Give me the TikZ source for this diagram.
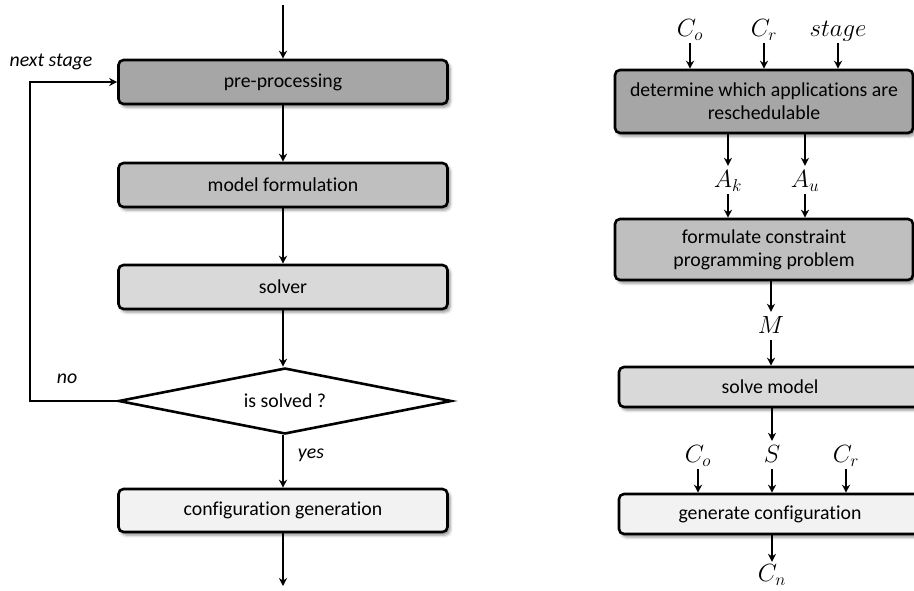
\documentclass[tikz,border=0pt]{standalone}
\usepackage{fontspec}
\setmainfont{Carlito}[Ligatures={NoCommon,NoContextual}]
\usetikzlibrary{arrows.meta,shapes.geometric,shadows.blur}
\begin{document}
\begin{tikzpicture}[x=1pt,y=-1pt,
  font=\fontsize{19.8}{23}\selectfont,
  arr/.style={-{Stealth[length=8pt,width=8pt]}, line width=2.2pt},
  box/.style={draw, rounded corners=5pt, line width=2.6pt, align=center,
    inner sep=0pt,
    blur shadow={shadow xshift=2.5pt, shadow yshift=-3pt, shadow blur radius=3pt, shadow opacity=45}},
  lbox/.style={box, minimum width=329pt},
  rbox/.style={box, minimum width=298pt},
  var/.style={inner sep=0pt, text height=15.7pt, text depth=0pt, minimum height=28pt,
    font=\fontsize{23}{27}\selectfont},
  note/.style={font=\fontsize{19.8}{23}\selectfont\itshape, inner sep=0pt}]
\useasboundingbox (0,0) rectangle (914,590);

% ---------------- left: staged flow ----------------
\coordinate (in) at (283,5);
\node[lbox, minimum height=44pt, fill={rgb,255:red,166;green,166;blue,166}] (pre) at (283,82) {pre-processing};
\node[lbox, minimum height=44pt, fill={rgb,255:red,191;green,191;blue,191}] (mod) at (283,185) {model formulation};
\node[lbox, minimum height=44pt, fill={rgb,255:red,217;green,217;blue,217}] (sol) at (283,287) {solver};
\node[draw, diamond, aspect=5, minimum width=333pt, minimum height=66pt, inner sep=0pt,
      line width=2.6pt, fill=white] (dec) at (285,401) {is solved ?};
\node[lbox, minimum height=43pt, fill={rgb,255:red,242;green,242;blue,242}] (gen) at (283,510.5) {configuration generation};
\coordinate (out) at (283,586);
\coordinate (loop) at (30,0);

\draw[arr] (in) -- (pre);
\draw[arr] (pre) -- (mod);
\draw[arr] (mod) -- (sol);
\draw[arr] (sol) -- (dec.north -| sol);
\draw[arr] (dec.south -| gen) -- (gen);
\draw[arr] (gen) -- (out);
\draw[arr] (dec.west) -- (dec.west -| loop) |- (pre.west);

\node[note] (ns) at (51,62) {next stage};
\node[note] (no) at (67,379) {no};
\node[note] (yes) at (311,455) {yes};

% ---------------- right: data flow ----------------
\node[rbox, minimum height=63pt, fill={rgb,255:red,166;green,166;blue,166}] (b1) at (764,101.5)
  {determine which applications are\\reschedulable};
\node[rbox, minimum height=61pt, fill={rgb,255:red,191;green,191;blue,191}] (b2) at (764,249.5)
  {formulate constraint\\programming problem};
\node[box, minimum width=302pt, minimum height=40pt, fill={rgb,255:red,217;green,217;blue,217}] (b3) at (770,387) {solve model};
\node[box, minimum width=302pt, minimum height=40pt, fill={rgb,255:red,242;green,242;blue,242}] (b4) at (770,514) {generate configuration};

\node[var] (co1) at (690,29) {$C_o$};
\node[var] (cr1) at (764,29) {$C_r$};
\node[var] (st) at (838,29) {$stage$};
\node[var] (ak) at (728,180) {$A_k$};
\node[var] (au) at (805,180) {$A_u$};
\node[var] (m) at (771,326) {$M$};
\node[var] (co2) at (698,455) {$C_o$};
\node[var] (s) at (772,455) {$S$};
\node[var] (cr2) at (846,455) {$C_r$};
\node[var, minimum height=24pt] (cn) at (772,574) {$C_n$};

\draw[arr] (co1) -- (co1 |- b1.north);
\draw[arr] (cr1) -- (cr1 |- b1.north);
\draw[arr] (st) -- (st |- b1.north);
\draw[arr] (b1.south -| ak) -- (ak);
\draw[arr] (b1.south -| au) -- (au);
\draw[arr] (ak) -- (ak |- b2.north);
\draw[arr] (au) -- (au |- b2.north);
\draw[arr] (b2.south -| m) -- (m);
\draw[arr] (m) -- (m |- b3.north);
\draw[arr] (b3.south -| s) -- (s);
\draw[arr] (co2) -- (co2 |- b4.north);
\draw[arr] (s) -- (s |- b4.north);
\draw[arr] (cr2) -- (cr2 |- b4.north);
\draw[arr] (b4.south -| cn) -- (cn);
\end{tikzpicture}
\end{document}
